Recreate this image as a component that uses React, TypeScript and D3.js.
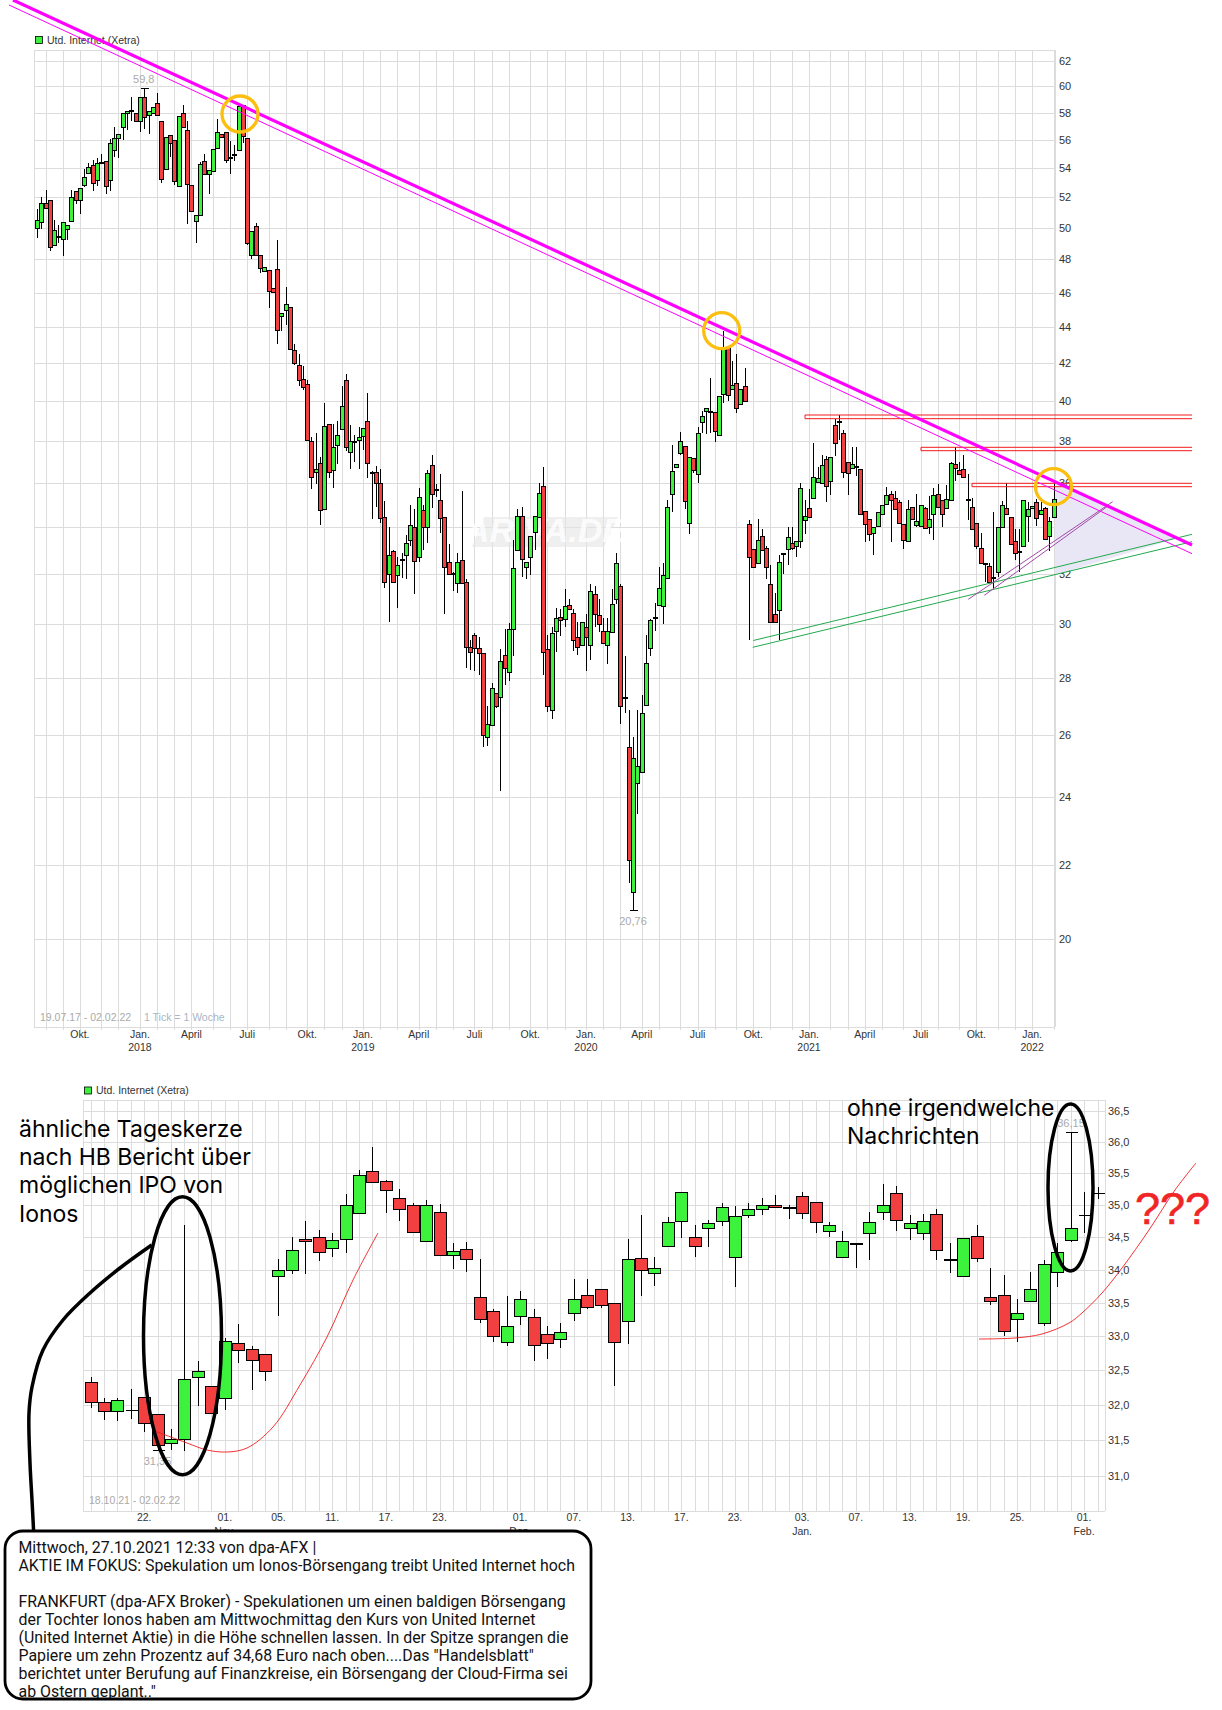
import React from 'react';
import * as d3 from 'd3';

// weekly candles, 19.07.17 - 02.02.22
const weekOpens = [50,50.4,51.6,51.8,48.9,49.5,49.3,49.95,50.45,52.45,
  51.8,52.85,53.65,54.2,53.15,54.4,54.5,53.15,55.3,56.15,
  56.9,58,58.2,58,57.35,59.15,57.85,57.95,58.75,57.4,
  53.95,56.35,56,52.75,58,56.75,52.85,50.45,50.85,54.5,
  53.6,53.8,55.4,56.45,56.6,54.8,55,55.25,58.6,56.1,
  48.3,50.1,48.3,47.3,47.35,46.25,47.4,44.65,44.95,45.15,
  42.7,41.9,41.15,40.9,38,36.5,36.95,34.8,38.85,36.6,
  37.8,38.6,41.1,37.45,38,38.05,38.25,39,36.5,36.5,
  36,34.45,32,32.95,31.95,32.65,32.8,33.45,34,32.7,
  34.75,34,36.85,35.7,35.2,34.45,32.5,32.05,31.65,32.6,
  31.7,29.15,29.6,29.1,28.9,25.95,26.35,27.45,27.3,28.85,
  28.2,29.8,33,34.5,32.3,32.7,33.8,34.45,35.85,29.05,
  26.85,29.75,30.3,30.2,30.75,30.45,29.5,29.2,29.9,29.2,
  31.2,30.35,29.75,29.2,29.7,31,31.5,27.3,25.6,21.25,
  24.45,24.8,27.05,29.1,30.3,30.75,30.7,31.85,35.5,36.75,
  37.4,37.75,34.2,37.15,36.4,38.95,39.5,39.5,39.45,38.3,
  40.35,42.9,40.6,40.95,39.85,40.8,34.15,33.05,32.45,33.6,
  33.1,31.6,30.4,30.55,32.85,33.05,33.3,33.2,33.4,34.3,
  34.85,35.3,36.05,36,37.1,36.1,38.8,39,38.4,37,
  36.7,36.8,36.65,34.7,34.35,33.75,34.05,34.6,35.05,35.5,
  35.3,35.1,34.15,33.4,34.9,34.1,34.05,34.85,34,34.6,
  35.5,35.2,34.85,35.2,36.9,36.6,36.65,35.25,34.9,34.2,
  33.1,32.45,32.35,31.9,32.1,34,34.85,34.45,33.4,32.95,
  33.2,34.5,34.85,35.1,34.6,34.85,33.6,34.45];
const weekCloses = [50.5,51.6,51.3,48.8,49.85,49.5,50.4,50.2,52,51.85,
  52.6,53.4,54.05,53,54.35,54.4,52.8,55.8,56.1,56.4,
  57.95,58.15,58.2,57.35,59.15,57.65,58.15,58.45,57.85,53.25,
  56.2,55.8,53.1,57.75,56.9,52.9,51.1,50.85,54.3,53.6,
  53.85,55.35,56.6,56.2,54.55,54.8,55,58.5,56.3,49.05,
  49.8,48.3,47.5,47.55,46.1,46.05,43.85,44.8,45.3,42.75,
  42,41.1,40.75,38.05,36.25,36.65,34.75,38.75,36.5,37.7,
  38.3,39.75,37.7,38,38,38.2,38.65,36.95,36.5,36,
  34.4,31.7,32.8,31.7,32.4,32.65,33.3,34.1,32.55,35.35,
  34,36.45,35.5,35.7,34.4,32.3,32,32.05,32.5,31.65,
  29.15,28.95,29.1,28.9,26,26.4,27.65,27,28.6,28.35,
  29.8,32.25,34.5,32.65,32.5,33.6,34.5,35.55,28.95,27,
  29.65,30.25,30.15,30.7,30.6,29.4,29.15,30.1,29.5,31.3,
  30.4,30,29.3,29.75,30.8,32.45,27,27.3,22.15,25.25,
  25,26.75,28.55,30.15,30.3,31.45,31.95,34.9,36.55,36.9,
  38,35.15,37.2,36.6,38.4,39.25,39.65,39.5,38.5,40.25,
  42.8,40.3,40.85,39.65,40.6,40,32.7,32.3,33.45,33,
  32.3,30.1,30.1,32.5,32.9,33.55,33.1,33.4,35.75,34.5,
  34.45,36.25,36.2,36.85,35.85,37.2,37.9,39,36.5,36.45,
  36.9,36.8,34.6,34.15,33.7,34,34.65,35,35.45,35.2,
  34.8,34.2,33.45,34.8,34.35,34.25,35,33.95,34.35,35.45,
  34.9,34.6,35.25,36.95,36.7,36.4,36.25,35.25,33.9,33.2,
  32.45,32.45,31.7,31.9,34,35,34.6,33.25,32.9,32.95,
  35.2,34.8,34.95,34.4,34.75,33.5,34.25,35.25];
const weekHighs = [51.2,52,52.5,51.8,50.5,50.2,50.4,50.2,52.5,52.45,
  52.6,53.95,54.35,54.55,54.7,55,54.5,56.05,56.9,56.4,
  57.95,58.15,59.2,58,59.15,59.8,58.15,58.45,59.5,57.4,
  56.2,56.35,56,57.75,58.55,57.4,52.85,50.85,54.45,55,
  53.85,55.35,57.5,56.45,56.6,55.9,55.6,58.5,58.6,56.1,
  49.8,50.3,48.3,47.55,47.35,46.25,49.2,44.8,46.35,45.15,
  43.05,42.5,41.85,41.1,38.2,38.4,37.2,39.9,38.85,38.85,
  39,40.8,41.4,38.8,38.3,38.7,38.65,40.4,36.55,36.8,
  36.65,35.15,34,33,32.7,32.9,33.65,35,34.8,35.75,
  35,36.6,37.3,35.95,36.4,34.45,33.25,32.1,32.9,35.6,
  31.8,29.4,29.65,29.5,28.9,27,27.8,27.45,29.05,29.8,
  30.05,33.45,34.8,34.9,32.5,33.6,34.5,36,36.75,29.6,
  29.9,30.65,30.6,31.4,31,30.6,30.1,30.1,30.4,31.6,
  31.5,31,30.25,30.25,31.4,32.9,31.6,28.8,26.85,25.95,
  26.85,27.4,29.6,30.2,30.85,32.3,32.45,35.2,37.8,36.9,
  38.45,37.75,37.2,37.15,38.7,39.5,39.65,41.2,39.45,40.25,
  43.8,42.9,42.1,42.5,40.6,41.75,34.3,33.05,34.35,33.9,
  33.2,32.4,31.25,32.8,32.9,34,34,33.4,36,35.2,
  35.7,37.9,36.75,37.3,37.25,37.2,39.1,39.3,38.55,37,
  37.7,37.7,36.65,34.7,34.35,34,34.65,35,35.8,35.6,
  35.6,35.2,34.15,35.2,34.9,35.5,35,34.9,35.4,35.75,
  35.95,35.2,35.9,37,37.7,37,37.3,36.4,35.3,34.2,
  33.75,32.45,32.45,34.65,34,35.15,36,34.45,33.9,33.9,
  35.2,35.1,34.95,35.25,35.1,34.9,34.45,36];
const weekLows = [49.35,49.95,51.3,48.55,48.9,49.05,48.2,49.2,50.45,51.55,
  50.9,52.7,53.65,52.4,52.8,54.4,52.2,52.45,54.75,54.7,
  56,56.7,57.4,57.35,56.6,56.8,56.45,57.95,57.85,53,
  53.95,54.8,52.85,52.75,56.9,50.25,51.1,49.05,50.85,53.6,
  52.2,53.8,55.4,56.2,54.35,53.6,54.5,55.25,55.8,48.9,
  48.05,48.3,47.2,47.3,45.1,46.05,43.05,43.75,44.1,42.7,
  41.9,40.8,40.55,38,35.7,35.95,34.1,34.8,36.2,35.75,
  36.9,38.6,37.5,36.65,37,36.65,37.55,36.2,34.35,34.9,
  34.2,31.45,30.1,31.7,30.65,31.85,31.8,33.2,31.2,32.5,
  33,33.3,34.85,35.35,33.75,30.4,32,31.3,31.25,31.65,
  28.35,28.3,28.25,28.1,25.6,25.65,26.35,26.95,24.2,27.75,
  27.9,28.8,33,31.9,31.8,31.95,33,34.45,28.1,26.8,
  26.55,28.95,29.55,29.9,30.6,29,28.85,29.2,28.25,28.65,
  29.9,29.7,29.3,28.5,29.7,30.8,26.4,26.75,21.5,20.76,
  23.5,24.8,27.05,28.8,29.75,30.7,30,31.85,34.65,36.75,
  37.3,34.8,33.7,36.45,36,38.4,38.35,38.4,37.95,38.25,
  39.9,40,40.6,39.4,39.85,40,29.4,32.3,32.45,33,
  31.8,30.1,30.1,29.4,32,32.4,33,32.7,33.1,33.7,
  34.45,35.25,36.05,36,35.1,35.45,37.25,38.05,36.2,35.45,
  36.7,36.3,34.6,33.35,33.4,32.8,34.05,34.6,35.05,33.35,
  34.8,34.2,33.05,33.4,34.35,34,34.05,33.9,33.7,33.45,
  34.9,34,34.85,35.2,36.1,36.4,36.2,34.3,33.9,33.05,
  32.45,31.7,31.7,31.4,31.9,34,34.6,33.25,32.6,32.1,
  33.2,33.35,34.85,34.05,34.6,33.45,32.95,34.45];

// week index of the first week of each month
const monthWeeks = [2,6,10,15,19,24,28,32,36,41,45,49,54,58,63,67,71,76,80,84,89,93,97,102,106,110,115,119,123,128,132,136,141,145,150,154,158,163,167,171,176,180,185,189,193,197,202,206,210,215,219,224,228,232,237];
const weekTickIdx = [10,24,36,49,63,76,89,102,115,128,141,154,167,180,193,206,219,232];
const weekTickLabels = ['Okt.','Jan.','April','Juli','Okt.','Jan.','April','Juli','Okt.','Jan.','April','Juli','Okt.','Jan.','April','Juli','Okt.','Jan.'];
const weekTickYears = ['','2018','','','','2019','','','','2020','','','','2021','','','','2022'];
const weekYTicks = [62,60,58,56,54,52,50,48,46,44,42,40,38,36,34,32,30,28,26,24,22,20];

// daily candles, 18.10.21 - 02.02.22
const dayOpens = [32.33,32.04,31.91,31.93,32.11,31.87,31.46,31.51,32.4,32.27,
  32.1,32.9,32.81,32.74,33.91,34,34.47,34.5,34.33,34.47,
  34.87,35.53,35.37,35.11,35,34.44,34.89,34.23,34.31,33.59,
  33.38,32.92,33.3,33.28,33.03,32.96,33.34,33.62,33.71,33.5,
  33.22,34.17,33.95,34.36,34.75,34.5,34.64,34.75,34.2,34.85,
  34.93,35,34.965,35.14,35.05,34.6,34.2,34.405,34.56,34.89,
  35.19,34.64,34.56,34.86,34.165,33.91,34.52,33.59,33.62,33.26,
  33.53,33.2,33.97,34.45,34.85,35.19];
const dayCloses = [32.04,31.91,32.07,31.93,31.74,31.43,31.51,32.38,32.49,31.89,
  32.93,32.8,32.65,32.49,34,34.3,34.44,34.27,34.45,35,
  35.47,35.36,35.24,34.94,34.58,35,34.23,34.28,34.16,33.26,
  33.01,33.15,33.56,32.87,32.9,33.06,33.56,33.44,33.46,32.92,
  34.16,34,34.03,34.73,35.2,34.36,34.72,34.97,34.82,34.93,
  35,34.96,34.955,34.88,34.73,34.68,34.44,34.395,34.73,35,
  34.77,34.72,34.75,34.3,34.155,34.48,34.17,33.53,33.07,33.35,
  33.7,34.09,34.27,34.64,34.85,35.19];
const dayHighs = [32.4,32.1,32.1,32.23,32.11,31.87,31.65,34.68,32.63,32.27,
  32.97,33.18,32.86,32.74,34.16,34.5,34.75,34.61,34.56,35.17,
  35.55,35.92,35.4,35.25,35.03,35.08,35.02,34.41,34.42,34.16,
  33.4,33.6,33.67,33.41,33.15,33.19,33.86,33.86,33.71,33.5,
  34.47,34.85,34.2,34.81,35.2,34.69,34.77,35.03,34.99,35.03,
  35.11,35.16,35,35.2,35.05,34.74,34.6,34.4,34.89,35.33,
  35.3,34.85,34.86,34.93,34.41,34.48,34.68,34.03,33.92,33.56,
  33.97,34.15,34.41,36.15,35.21,35.28];
const dayLows = [31.95,31.78,31.77,31.8,31.62,31.35,31.36,31.35,31.98,31.89,
  31.93,32.6,32.22,32.35,33.3,33.93,33.93,34.13,34.2,34.26,
  34.87,35.35,34.87,34.75,34.56,34.44,34.22,34.01,33.97,33.2,
  32.92,32.85,33.17,32.64,32.67,32.82,33.23,33.41,33.42,32.27,
  32.89,33.6,33.75,34.36,34.48,34.2,34.35,34.67,33.74,34.8,
  34.85,34.96,34.78,34.78,34.57,34.5,34.17,34.03,34.15,34.77,
  34.59,34.46,34.45,34.15,33.95,33.89,34.12,33.47,33,32.92,
  33.53,33.15,33.74,34.43,34.57,35.1];

const dayTickIdx = [4,10,14,18,22,26,32,36,40,44,48,53,57,61,65,69,74];
const dayTickLabels = ['22.','01.','05.','11.','17.','23.','01.','07.','13.','17.','23.','03.','07.','13.','19.','25.','01.'];
const dayTickMonths = ['','Nov.','','','','','Dez.','','','','','Jan.','','','','','Feb.'];
const dayYTicks = [36.5,36,35.5,35,34.5,34,33.5,33,32.5,32,31.5,31];

const newsLines = [
  'Mittwoch, 27.10.2021 12:33 von dpa-AFX |',
  'AKTIE IM FOKUS: Spekulation um Ionos-Börsengang treibt United Internet hoch',
  '',
  'FRANKFURT (dpa-AFX Broker) - Spekulationen um einen baldigen Börsengang',
  'der Tochter Ionos haben am Mittwochmittag den Kurs von United Internet',
  '(United Internet Aktie) in die Höhe schnellen lassen. In der Spitze sprangen die',
  'Papiere um zehn Prozentz auf 34,68 Euro nach oben....Das "Handelsblatt"',
  'berichtet unter Berufung auf Finanzkreise, ein Börsengang der Cloud-Firma sei',
  'ab Ostern geplant.."',
];
const leftNote = ['ähnliche Tageskerze', 'nach HB Bericht über', 'möglichen IPO von', 'Ionos'];
const rightNote = ['ohne irgendwelche', 'Nachrichten'];

// hand drawn overlays, in page pixels like the scribbles in the screenshot
const pinkThick: [number, number][] = [[13, 0], [1192, 545]];
const pinkThin: [number, number][] = [[9, 5], [1192, 553.7]];
const greenUpper: [number, number][] = [[753.3, 640.5], [1192, 534.3]];
const greenLower: [number, number][] = [[752.7, 647.3], [1192, 541.7]];
const purpleA: [number, number][] = [[968.3, 599.3], [1112.7, 501.7]];
const purpleB: [number, number][] = [[984.3, 595.3], [1108, 506]];
const wedge: [number, number][] = [[1055, 482], [1178, 538], [1055, 575]];
const yellowRings: [number, number][] = [[240, 114], [721.7, 330.7], [1053.5, 486.7]];
const resistance: [number, number, number][] = [[805, 415, 418.7], [921, 447.3, 450.7], [972, 483.3, 486.7]];
const callout: [number, number][] = [[151.7, 1245], [120, 1268], [90, 1293], [63, 1320], [43, 1350], [32, 1387], [29, 1413], [30, 1463], [32, 1500], [33.6, 1531]];
const redCurveA: [number, number][] = [[152, 1430], [187, 1443], [207, 1450], [227, 1452], [247, 1448], [273, 1427], [300, 1385], [327, 1337], [353, 1280], [378, 1233]];
const redCurveB: [number, number][] = [[979, 1339], [1015, 1338], [1042, 1334], [1069, 1323], [1082, 1313], [1102, 1293], [1122, 1268], [1149, 1230], [1175, 1190], [1196, 1163]];

const GREEN = '#3cf23c';
const RED = '#f24040';
const GRID = '#dcdcdc';
const SANS = '"Liberation Sans", Arial, sans-serif';

const straight = d3.line();
const smooth = d3.line().curve(d3.curveCatmullRom);

interface CandlesProps {
  opens: number[];
  closes: number[];
  highs: number[];
  lows: number[];
  x: (i: number) => number;
  y: (v: number) => number;
  width: number;
  flatHeight: number;
  highCaps: number[];
  lowCaps: number[];
}

const Candles: React.FC<CandlesProps> = ({ opens, closes, highs, lows, x, y, width, flatHeight, highCaps, lowCaps }) => (
  <g shapeRendering="crispEdges">
    {opens.map((o, i) => {
      const c = closes[i];
      const cx = Math.round(x(i)) + 0.5;
      const top = Math.round(y(Math.max(o, c))) + 0.5;
      const bot = Math.round(y(Math.min(o, c))) + 0.5;
      const capW = width > 6 ? width / 2 : 4;
      const flat = o === c && flatHeight === 0;
      return (
        <g key={i}>
          <line x1={cx} x2={cx} y1={y(highs[i])} y2={y(lows[i])} stroke="#000" />
          {highCaps.includes(i) && <line x1={cx - capW} x2={cx + capW} y1={y(highs[i])} y2={y(highs[i])} stroke="#000" />}
          {lowCaps.includes(i) && <line x1={cx - capW} x2={cx + capW} y1={y(lows[i])} y2={y(lows[i])} stroke="#000" />}
          {flat
            ? <line x1={cx - width / 2} x2={cx + width / 2} y1={top} y2={top} stroke="#000" />
            : <rect x={cx - width / 2} y={top} width={width} height={Math.max(bot - top, 1)}
                fill={c > o ? GREEN : RED} stroke="#000" />}
        </g>
      );
    })}
  </g>
);

const App: React.FC = () => {
  const xW = d3.scaleLinear().domain([0, 237]).range([37, 1053.5]);
  const yW = d3.scaleLog().domain([40, 20]).range([401, 939]);
  const xD = d3.scaleLinear().domain([0, 75]).range([90.5, 1097.5]);
  const yD = d3.scaleLog().domain([36.5, 31]).range([1111.3, 1475.7]);

  const W = { left: 34, right: 1055, top: 50, bottom: 1027 };
  const D = { left: 83, right: 1105, top: 1100, bottom: 1511 };

  return (
    <svg width={1222} height={1710} style={{ position: 'absolute', left: 0, top: 0, background: '#fff' }} fontFamily={SANS}>
      {/* weekly chart grid */}
      <g stroke={GRID} shapeRendering="crispEdges">
        <line x1={W.left} x2={W.right} y1={W.top} y2={W.top} />
        <line x1={W.left} x2={W.right} y1={W.bottom} y2={W.bottom} />
        <line x1={W.left} x2={W.left} y1={W.top} y2={W.bottom} />
        <line x1={W.right} x2={W.right} y1={W.top} y2={W.bottom} />
        {weekYTicks.map(t => <line key={t} x1={W.left} x2={W.right} y1={Math.round(yW(t))} y2={Math.round(yW(t))} />)}
        {monthWeeks.map(m => <line key={m} x1={Math.round(xW(m))} x2={Math.round(xW(m))} y1={W.top} y2={W.bottom + 3} />)}
      </g>
      <g fontSize={11} fill="#333">
        {weekYTicks.map(t => <text key={t} x={1059} y={yW(t) + 4}>{t}</text>)}
      </g>
      <g fontSize={10.5} fill="#333" textAnchor="middle">
        {weekTickIdx.map((w, i) => (
          <g key={i}>
            <text x={xW(w)} y={1038}>{weekTickLabels[i]}</text>
            {weekTickYears[i] && <text x={xW(w)} y={1051}>{weekTickYears[i]}</text>}
          </g>
        ))}
      </g>

      {/* watermark */}
      <path d="M484 517H618L604 547H472Z" fill="#e4e4e4" opacity={0.6} />
      <text x={545} y={542} textAnchor="middle" fontSize={34} fontWeight="bold" fontStyle="italic" fill="#fff" opacity={0.8}>ARIVA.DE</text>

      <rect x={35.5} y={36.5} width={7} height={7} fill={GREEN} stroke="#000" strokeWidth={0.8} />
      <text x={47} y={43.5} fontSize={10.5} fill="#333">Utd. Internet (Xetra)</text>
      <text x={143.8} y={83} fontSize={11} fill="#aaa" textAnchor="middle">59,8</text>
      <text x={633} y={925} fontSize={11} fill="#aaa" textAnchor="middle">20,76</text>
      <text x={40} y={1021} fontSize={10.5} fill="#aaa">19.07.17 - 02.02.22</text>
      <text x={144} y={1021} fontSize={10.5} fill="#a9b5c4">1 Tick = 1 Woche</text>

      <path d={d3.line()(wedge) + 'Z'} fill="#e9e7f6" />
      <Candles opens={weekOpens} closes={weekCloses} highs={weekHighs} lows={weekLows} x={xW} y={yW}
        width={4} flatHeight={1} highCaps={[25]} lowCaps={[139]} />

      {/* drawn trend lines */}
      <g fill="none">
        {resistance.map(([x0, y0, y1], i) => (
          <path key={i} d={`M1192 ${y0}H${x0}V${y1}H1192`} stroke="#f51b1b" strokeWidth={1} />
        ))}
        <path d={straight(greenUpper)!} stroke="#22a94d" strokeWidth={1} />
        <path d={straight(greenLower)!} stroke="#22a94d" strokeWidth={1} />
        <path d={straight(purpleA)!} stroke="#a04aa8" strokeWidth={1} />
        <path d={straight(purpleB)!} stroke="#a04aa8" strokeWidth={1} />
        <path d={straight(pinkThin)!} stroke="#ff00ff" strokeWidth={1} />
        <path d={straight(pinkThick)!} stroke="#ff00ff" strokeWidth={3.2} />
        {yellowRings.map(([cx, cy], i) => (
          <circle key={i} cx={cx} cy={cy} r={18} stroke="#fcbf10" strokeWidth={3.3} />
        ))}
      </g>

      {/* daily chart grid */}
      <g stroke={GRID} shapeRendering="crispEdges">
        <line x1={D.left} x2={D.right} y1={D.top} y2={D.top} />
        <line x1={D.left} x2={D.right} y1={D.bottom} y2={D.bottom} />
        <line x1={D.left} x2={D.left} y1={D.top} y2={D.bottom} />
        <line x1={D.right} x2={D.right} y1={D.top} y2={D.bottom} />
        {dayYTicks.map(t => <line key={t} x1={D.left} x2={D.right} y1={Math.round(yD(t))} y2={Math.round(yD(t))} />)}
        {dayOpens.map((_, i) => <line key={i} x1={Math.round(xD(i))} x2={Math.round(xD(i))} y1={D.top} y2={D.bottom} />)}
      </g>
      <g fontSize={11} fill="#333">
        {dayYTicks.map(t => <text key={t} x={1108} y={yD(t) + 4}>{t.toFixed(1).replace('.', ',')}</text>)}
      </g>
      <g fontSize={10.5} fill="#333" textAnchor="middle">
        {dayTickIdx.map((d, i) => (
          <g key={i}>
            <text x={xD(d)} y={1521}>{dayTickLabels[i]}</text>
            {dayTickMonths[i] && <text x={xD(d)} y={1535}>{dayTickMonths[i]}</text>}
          </g>
        ))}
      </g>
      <rect x={84.5} y={1087} width={7} height={7} fill={GREEN} stroke="#000" strokeWidth={0.8} />
      <text x={96} y={1094} fontSize={10.5} fill="#333">Utd. Internet (Xetra)</text>
      <text x={157.5} y={1465} fontSize={11} fill="#aaa" textAnchor="middle">31,35</text>
      <text x={1071} y={1127} fontSize={11} fill="#aaa" textAnchor="middle">36,15</text>
      <text x={89} y={1504} fontSize={10.5} fill="#aaa">18.10.21 - 02.02.22</text>

      <Candles opens={dayOpens} closes={dayCloses} highs={dayHighs} lows={dayLows} x={xD} y={yD}
        width={12} flatHeight={0} highCaps={[73]} lowCaps={[5]} />

      <g fill="none">
        <path d={smooth(redCurveA)!} stroke="#f01c1c" strokeWidth={0.9} />
        <path d={smooth(redCurveB)!} stroke="#f01c1c" strokeWidth={0.9} />
        <ellipse cx={182.5} cy={1335.8} rx={39} ry={139} stroke="#000" strokeWidth={3.5} />
        <ellipse cx={1070.5} cy={1187.5} rx={22.5} ry={83.5} stroke="#000" strokeWidth={3.5} />
        <path d={smooth(callout)!} stroke="#000" strokeWidth={3.5} />
      </g>

      <g fontFamily="Inter, sans-serif" fontSize={23} fill="#000">
        {leftNote.map((s, i) => <text key={i} x={19} y={1137 + i * 28.2}>{s}</text>)}
        {rightNote.map((s, i) => <text key={i} x={847} y={1116 + i * 28}>{s}</text>)}
      </g>
      <text x={1135} y={1224} fontSize={45} fill="#f02525" stroke="#f02525" strokeWidth={0.6}>???</text>

      {/* news box */}
      <rect x={5} y={1531} width={586} height={168} rx={18} fill="#fff" />
      <g fontFamily="Roboto, sans-serif" fontSize={15.9} fill="#111">
        {newsLines.map((s, i) => <text key={i} x={18.5} y={1553 + i * 18}>{s}</text>)}
      </g>
      <rect x={5} y={1531} width={586} height={168} rx={18} fill="none" stroke="#000" strokeWidth={2.8} />
    </svg>
  );
};

export default App;
